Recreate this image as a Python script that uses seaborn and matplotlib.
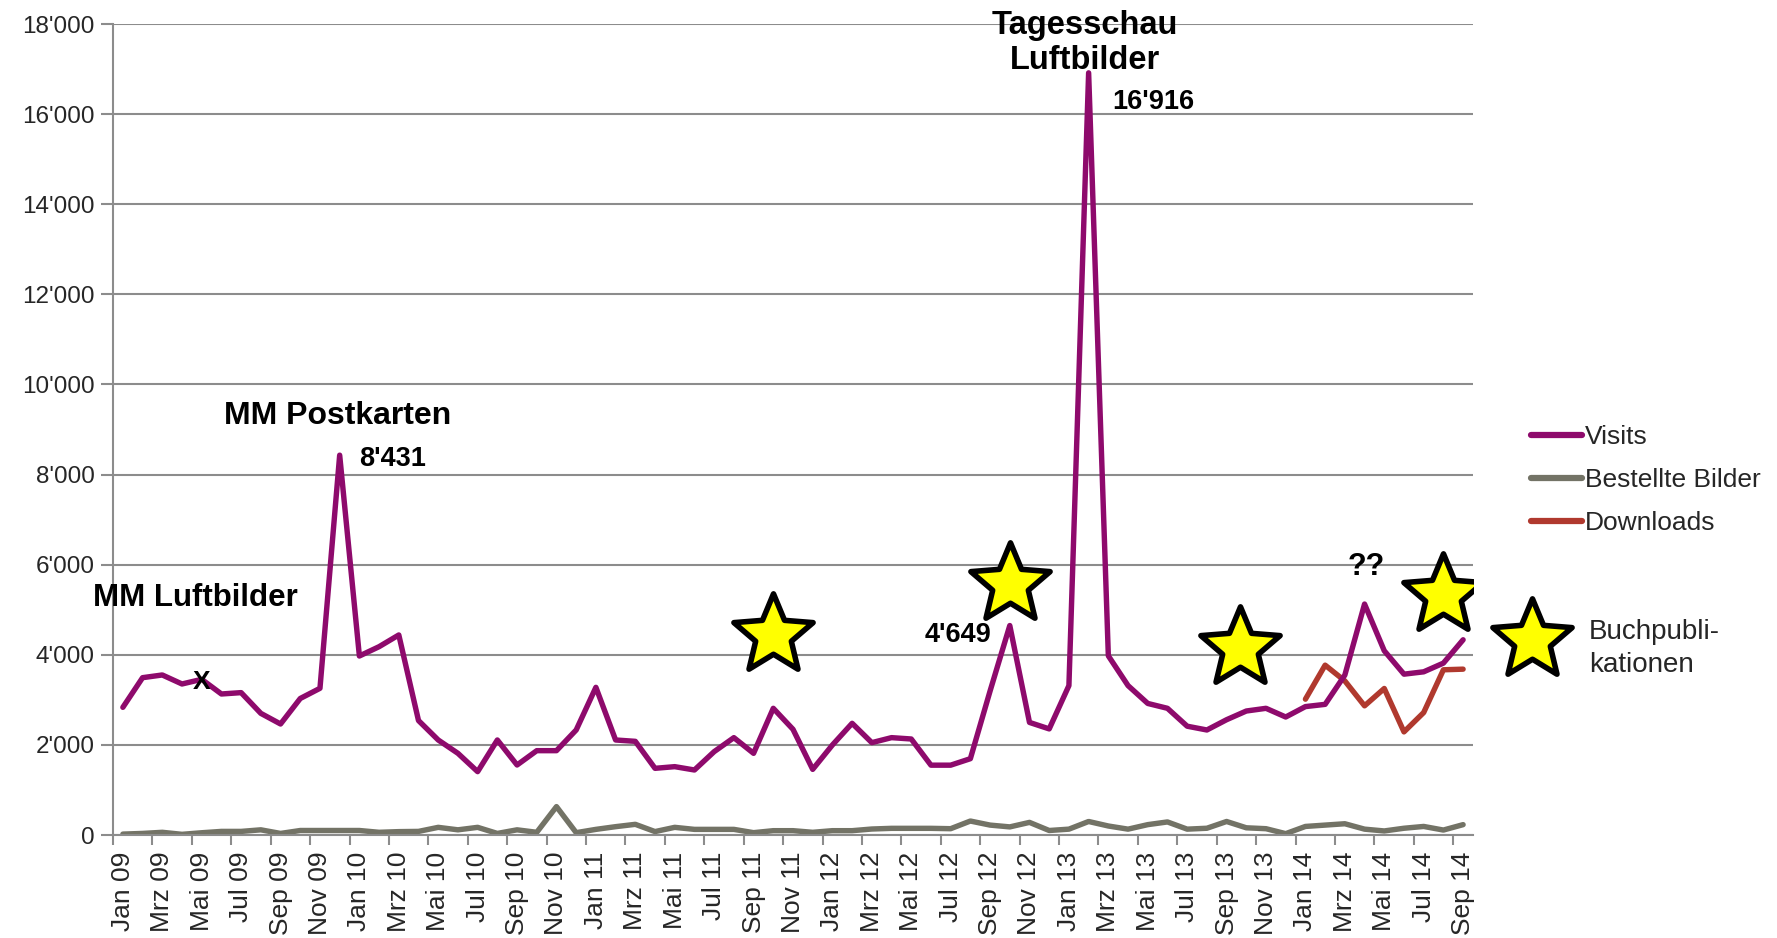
import numpy as np
import pandas as pd
import seaborn as sns
import matplotlib.pyplot as plt
from matplotlib.lines import Line2D
from matplotlib.markers import MarkerStyle
from matplotlib.path import Path

# monthly data Jan 09 .. Sep 14
month_names = ['Jan', 'Feb', 'Mrz', 'Apr', 'Mai', 'Jun', 'Jul', 'Aug', 'Sep', 'Okt', 'Nov', 'Dez']
years = ['09', '10', '11', '12', '13', '14']
months = [f'{m} {y}' for y in years for m in month_names][:69]

visits = [2834, 3492, 3552, 3352, 3455, 3130, 3160, 2700, 2464, 3030, 3256, 8431,
          3973, 4180, 4440, 2540, 2109, 1813, 1406, 2109, 1554, 1872, 1872, 2331,
          3278, 2109, 2079, 1480, 1517, 1443, 1850, 2161, 1813, 2812, 2346, 1457,
          1998, 2479, 2050, 2161, 2131, 1550, 1550, 1694, 3196, 4649, 2499, 2355,
          3316, 16916, 3977, 3316, 2920, 2812, 2415, 2331, 2559, 2752, 2812, 2619,
          2850, 2900, 3550, 5126, 4089, 3570, 3622, 3815, 4333]
bestellt = [20, 35, 60, 15, 50, 80, 80, 115, 35, 100, 100, 100,
            100, 60, 75, 80, 170, 115, 170, 35, 115, 60, 630, 52,
            125, 185, 237, 76, 170, 125, 125, 125, 52, 96, 96, 60,
            96, 96, 133, 148, 148, 148, 140, 310, 220, 180, 280, 100,
            130, 300, 200, 130, 230, 290, 130, 150, 300, 160, 140, 30,
            190, 220, 250, 130, 90, 150, 190, 110, 230]
downloads_start = 60
downloads = [3015, 3770, 3420, 2867, 3252, 2289, 2718, 3667, 3681]

# Buchpublikationen stars (month index, height)
star_x = [33, 45, 56.7, 67]
star_y = [4440, 5580, 4150, 5330]

c_visits = '#8E0A6C'
c_best = '#737366'
c_down = '#B0392E'

df = pd.concat([
    pd.DataFrame({'m': range(69), 'v': visits, 's': 'Visits'}),
    pd.DataFrame({'m': range(69), 'v': bestellt, 's': 'Bestellte Bilder'}),
    pd.DataFrame({'m': range(downloads_start, 69), 'v': downloads, 's': 'Downloads'}),
])

sns.set_style('white')
plt.rcParams['font.family'] = ['Liberation Sans', 'DejaVu Sans']

fig = plt.figure(figsize=(17.77, 9.38), dpi=100)
ax = fig.add_axes([0.0636, 0.1098, 0.7653, 0.8646])

sns.lineplot(data=df, x='m', y='v', hue='s', ax=ax, linewidth=3.9, legend=False,
             palette={'Visits': c_visits, 'Bestellte Bilder': c_best, 'Downloads': c_down},
             hue_order=['Bestellte Bilder', 'Downloads', 'Visits'])

ax.set_xlim(-0.5, 68.5)
ax.set_ylim(0, 18000)
ax.set_yticks(np.arange(0, 18001, 2000))
ax.set_yticklabels([f"{v // 1000}'000" if v else '0' for v in range(0, 18001, 2000)], fontsize=17.5)
ax.yaxis.grid(True, color='#8c8c8c', linewidth=1.5)
ax.set_axisbelow(True)
ax.tick_params(axis='y', length=9, width=1.5, color='#8c8c8c', pad=4, left=True)

ax.set_xticks(range(0, 69, 2))
ax.set_xticklabels(months[::2], rotation=90, fontsize=19)
ax.set_xticks(np.arange(-0.5, 69, 2), minor=True)
ax.tick_params(axis='x', which='major', length=0, pad=12)
ax.tick_params(axis='x', which='minor', length=7, width=1.5, color='#8c8c8c', bottom=True)
ax.set_xlabel('')
ax.set_ylabel('')

for s in ['top', 'right']:
    ax.spines[s].set_visible(False)
for s in ['left', 'bottom']:
    ax.spines[s].set_color('#8c8c8c')
    ax.spines[s].set_linewidth(1.5)

# fatter five-pointed star like the office shape (closed outline)
ang = np.pi / 2 + np.arange(11) * np.pi / 5
rad = np.where(np.arange(11) % 2 == 0, 1.0, 0.45)
star_path = Path(np.column_stack([rad * np.cos(ang), rad * np.sin(ang)]), closed=True)
star = MarkerStyle(star_path, joinstyle='miter')

ax.plot(star_x, star_y, linestyle='none', marker=star, markersize=60,
        markerfacecolor='#FFFF00', markeredgecolor='black', markeredgewidth=4, zorder=5)
ax.plot([71.5], [4330], linestyle='none', marker=star, markersize=60, clip_on=False,
        markerfacecolor='#FFFF00', markeredgecolor='black', markeredgewidth=4, zorder=5)
ax.text(74.4, 4130, 'Buchpubli-\nkationen', fontsize=20, va='center', ha='left',
        linespacing=1.35)

# annotations
bold = dict(fontweight='bold', color='black')
ax.text(3.7, 5250, 'MM Luftbilder', fontsize=22.5, ha='center', va='center', **bold)
ax.text(4.0, 3400, 'X', fontsize=19, ha='center', va='center', **bold)
ax.text(10.9, 9300, 'MM Postkarten', fontsize=23, ha='center', va='center', **bold)
ax.text(13.7, 8350, "8'431", fontsize=19.5, ha='center', va='center', **bold)
ax.text(48.8, 17580, 'Tagesschau\nLuftbilder', fontsize=23.5, ha='center', va='center',
        linespacing=1.2, **bold)
ax.text(52.3, 16280, "16'916", fontsize=19.5, ha='center', va='center', **bold)
ax.text(42.35, 4450, "4'649", fontsize=19.5, ha='center', va='center', **bold)
ax.text(63.1, 5950, '??', fontsize=22, ha='center', va='center', **bold)

handles = [Line2D([], [], color=c_visits, lw=4.5, solid_capstyle='round'),
           Line2D([], [], color=c_best, lw=4.5, solid_capstyle='round'),
           Line2D([], [], color=c_down, lw=4.5, solid_capstyle='round')]
fig.legend(handles, ['Visits', 'Bestellte Bilder', 'Downloads'], loc='upper left',
           bbox_to_anchor=(0.848, 0.572), frameon=False, fontsize=19,
           handlelength=1.95, handletextpad=0.1, labelspacing=0.72)

fig.savefig('out.png', dpi=100)
